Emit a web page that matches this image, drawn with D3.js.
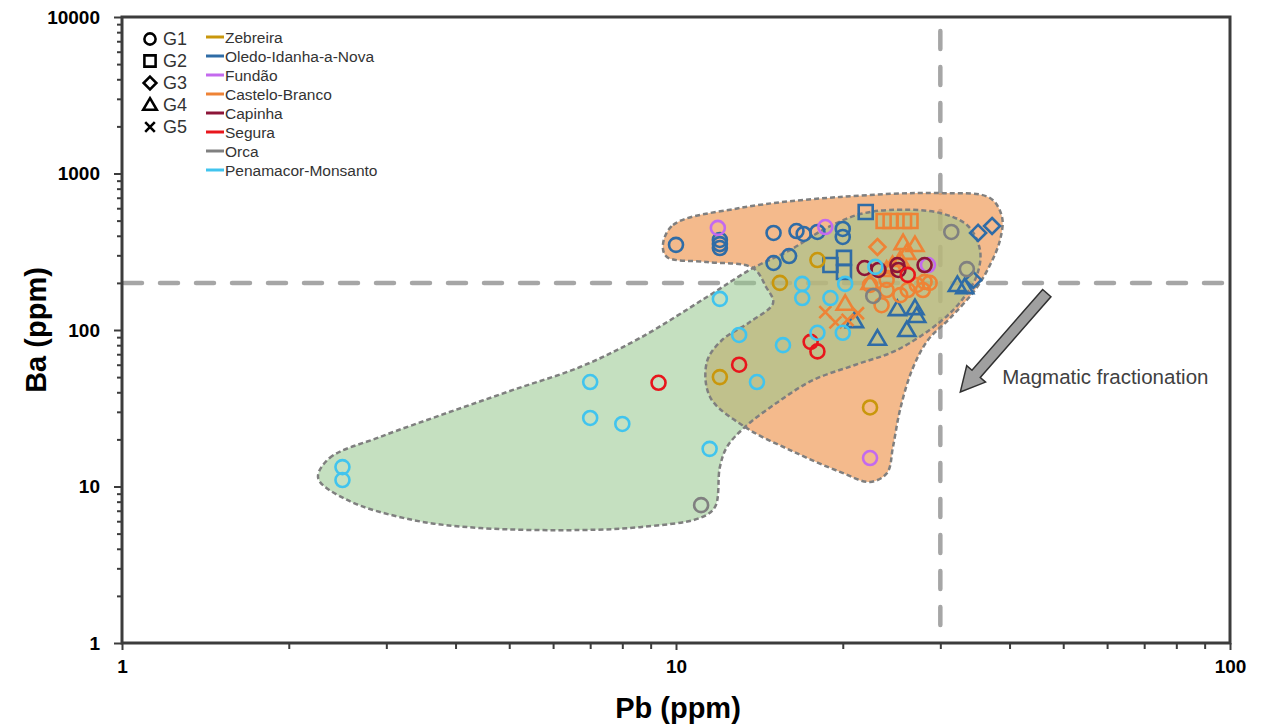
<!DOCTYPE html>
<html>
<head>
<meta charset="utf-8">
<script src="https://cdn.jsdelivr.net/npm/d3@7"></script>
<style>
body{margin:0;background:#fff;}
svg{display:block;font-family:"Liberation Sans",Arial,sans-serif;}
</style>
</head>
<body>
<div class="chart"></div>
<script>
// samples: [Pb, Ba, group]
var zebreira=[[12.0,50,1],[15.4,200,1],[18.0,280,1],[22.4,32,1]]
var oledo=[[10.0,350,1],[12.0,376,1],[12.0,354,1],[12.0,334,1],[15.0,417,1],[16.5,429,1],[17.0,411,1],[18.0,423,1],[20.0,442,1],[20.0,393,1],[15.0,268,1],[16.0,297,1],
  [22.0,567,2],[19.0,260,2],[20.1,289,2],[20.1,235,2],
  [35.1,417,3],[37.2,462,3],[34.4,209,3],
  [21.0,114,4],[23.1,88,4],[25.1,136,4],[27.0,138,4],[27.2,123,4],[26.1,100,4],[32.2,194,4],[33.2,188,4]]
var fundao=[[11.9,449,1],[18.6,455,1],[28.5,260,1],[22.4,15.2,1]]
var casteloBranco=[[23.7,497,2],[24.4,497,2],[25.8,497,2],[26.5,497,2],
  [23.1,339,3],
  [25.7,359,4],[27.0,349,4],[26.1,311,4],[25.4,280,4],[24.6,260,4],[20.2,147,4],[22.4,200,4],[24.0,242,4],
  [24.0,180,1],[25.4,167,1],[26.2,180,1],[27.2,194,1],[28.1,203,1],[27.9,180,1],[23.5,144,1],[24.0,209,1],[22.4,194,1],[28.7,200,1],
  [18.6,130,5],[19.4,112,5],[21.3,128,5],[20.4,116,5]]
var capinha=[[21.9,249,1],[23.2,242,1],[25.1,260,1],[25.2,242,1],[28.1,260,1]]
var segura=[[9.3,46,1],[13.0,60,1],[17.5,84,1],[18.0,73,1],[26.2,225,1]]
var orca=[[31.4,423,1],[33.5,245,1],[11.1,7.6,1],[22.7,165,1]]
var penamacor=[[2.5,13.3,1],[2.5,11,1],[7.0,46.5,1],[7.0,27.4,1],[8.0,25.1,1],[11.5,17.4,1],[12.0,158,1],[13.0,93,1],[14.0,46.5,1],[15.6,80,1],[16.9,197,1],[16.9,160,1],[18.0,96,1],[19.0,160,1],[20.0,96,1],[20.2,197,1],[22.9,253,1]]

var locations=["Zebreira","Oledo-Idanha-a-Nova","Fundão","Castelo-Branco","Capinha","Segura","Orca","Penamacor-Monsanto"]
var samples=[zebreira,oledo,fundao,casteloBranco,capinha,segura,orca,penamacor]
var colors=["#c9970c","#2f6ca6","#c46aee","#ee8336","#8c1538","#e8161c","#808080","#41c4ee"]
var groups=["G1","G2","G3","G4","G5"]
var drawOrder=[1,3,0,2,4,5,6,7]

var xTicks=[1,10,100]
var yTicks=[1,10,100,1000,10000]
var baLimit=200
var pbLimit=30

// fields [Pb, Ba]
var fieldOrange=[[9.47,349],[9.88,469],[13.05,602],[19.77,708],[29.96,750],[36.88,697],[38.77,527],[38.45,376],[36.88,260],[34.65,180],[31.23,119],[28.5,86.3],[26.67,55.5],[25.37,30.8],[24.64,17.9],[24.04,12.2],[22.4,10.7],[19.77,12.4],[16.06,17.1],[13.32,24.0],[11.52,37.3],[11.37,62.5],[12.11,86.3],[13.6,112.5],[14.97,148.8],[14.54,188.3],[13.77,249],[11.37,272],[9.63,293]]
var fieldGreen=[[2.26,11.33],[2.37,15.2],[2.92,20.7],[3.86,29.5],[5.08,41.4],[6.71,58.0],[8.61,88.9],[11.37,162.5],[13.77,249],[16.06,324],[18.42,436],[21.22,543],[24.34,585],[29.96,559],[33.66,462],[35.38,324],[34.94,225],[32.82,155.5],[29.96,112.5],[25.06,74.5],[21.04,59.8],[17.68,47.9],[15.28,34.7],[13.32,24.0],[12.36,17.9],[12.0,13.3],[11.76,7.4],[11.05,6.3],[8.61,5.5],[6.71,5.27],[4.43,5.43],[3.35,6.11],[2.55,8.2]]

var arrowFrom=[46.7,172]
var arrowTo=[32.6,40.2]
var arrowText="Magmatic fractionation"

var shapes=[
  "M7,0A7,7 0 1,1 -7,0A7,7 0 1,1 7,0Z",
  "M-7,-7H7V7H-7Z",
  "M0,-8L8,0L0,8L-8,0Z",
  "M0,-8.5L8.5,6L-8.5,6Z",
  "M-6,-6L6,6M6,-6L-6,6"
]

var drawChart=function(){
  var screen={width:1274,height:728}
  var svg=d3.select(".chart").append("svg")
      .attr('width',screen.width)
      .attr('height',screen.height)

  var x=d3.scaleLog().domain([1,100]).range([122,1230])
  var y=d3.scaleLog().domain([1,10000]).range([643,17])

  // reference lines
  svg.append('line')
      .attr('x1',x(1)+2).attr('x2',x(100))
      .attr('y1',y(baLimit)).attr('y2',y(baLimit))
      .style('stroke','#a6a6a6').attr('stroke-width',4.5)
      .attr('stroke-dasharray','18,18').attr('stroke-linecap','round')
  svg.append('line')
      .attr('x1',x(pbLimit)).attr('x2',x(pbLimit))
      .attr('y1',y(10000)+14).attr('y2',y(1))
      .style('stroke','#a6a6a6').attr('stroke-width',4.5)
      .attr('stroke-dasharray','18,18').attr('stroke-linecap','round')

  // fields
  var area=d3.line()
      .x(function(d){return x(d[0])})
      .y(function(d){return y(d[1])})
      .curve(d3.curveCatmullRomClosed.alpha(0.5))
  svg.append('path').attr('d',area(fieldOrange))
      .style('fill','#f0a060').style('fill-opacity',0.72)
  svg.append('path').attr('d',area(fieldGreen))
      .style('fill','#95c68c').style('fill-opacity',0.55)
  svg.selectAll('.outline').data([fieldOrange,fieldGreen]).enter()
      .append('path').attr('class','outline')
      .attr('d',function(d){return area(d)})
      .style('fill','none').style('stroke','#7f7f7f')
      .attr('stroke-width',2.5).attr('stroke-dasharray','5,3')

  // arrow
  var p0=[x(arrowFrom[0]),y(arrowFrom[1])], p1=[x(arrowTo[0]),y(arrowTo[1])]
  var dx=p1[0]-p0[0], dy=p1[1]-p0[1], len=Math.sqrt(dx*dx+dy*dy)
  var ux=dx/len, uy=dy/len, nx=-uy, ny=ux
  var bw=5.5, hw=12.5, hl=24
  var pt=function(a,b){return [p0[0]+ux*a+nx*b,p0[1]+uy*a+ny*b]}
  var arrowPts=[pt(0,bw),pt(len-hl,bw),pt(len-hl,hw),pt(len,0),pt(len-hl,-hw),pt(len-hl,-bw),pt(0,-bw)]
  svg.append('polygon')
      .attr('points',arrowPts.map(function(d){return d.join(',')}).join(' '))
      .style('fill','#a0a0a0').style('stroke','#303030').attr('stroke-width',1.5)
  svg.append('text')
      .attr('x',x(38.8)).attr('y',y(45.5))
      .style('font-size','20.5px').style('fill','#404040')
      .text(arrowText)

  // samples
  var pts=svg.append('g').attr('id','samples')
  for(var k=0;k<drawOrder.length;k++){
    var i=drawOrder[k]
    pts.append('g').selectAll('path')
        .data(samples[i]).enter()
        .append('path')
        .attr('d',function(d){return shapes[d[2]-1]})
        .attr('transform',function(d){return 'translate('+x(d[0])+','+y(d[1])+')'})
        .style('fill','none').style('stroke',colors[i])
        .attr('stroke-width',2.6)
  }

  // frame + axes
  svg.append('rect')
      .attr('x',x(1)).attr('y',y(10000))
      .attr('width',x(100)-x(1)).attr('height',y(1)-y(10000))
      .style('fill','none').style('stroke','#3c3c3c').attr('stroke-width',3)

  var minorX=[], minorY=[]
  for(var m=2;m<10;m++){
    minorX.push(m,m*10)
    minorY.push(m,m*10,m*100,m*1000)
  }
  var xg=svg.append('g').attr('transform','translate(0,'+y(1)+')')
  xg.call(d3.axisBottom(x).tickValues(minorX).tickSize(6).tickFormat(''))
  xg.append('g').call(d3.axisBottom(x).tickValues(xTicks).tickSize(7).tickPadding(10).tickFormat(d3.format('d')))
  var yg=svg.append('g').attr('transform','translate('+x(1)+',0)')
  yg.call(d3.axisLeft(y).tickValues(minorY).tickSize(5).tickFormat(''))
  yg.append('g').call(d3.axisLeft(y).tickValues(yTicks).tickSize(8).tickPadding(14).tickFormat(d3.format('d')))
  svg.selectAll('.domain').remove()
  svg.selectAll('.tick line').style('stroke','#3c3c3c').attr('stroke-width',2)
  svg.selectAll('.tick text')
      .style('font-family','"Liberation Sans",Arial,sans-serif')
      .style('font-size','19px').style('font-weight','bold').style('fill','#000')

  svg.append('text')
      .attr('x',(x(1)+x(100))/2+2).attr('y',718)
      .attr('text-anchor','middle')
      .style('font-size','29px').style('font-weight','bold')
      .text('Pb (ppm)')
  svg.append('text')
      .attr('transform','translate(46,330) rotate(-90)')
      .attr('text-anchor','middle')
      .style('font-size','29px').style('font-weight','bold')
      .text('Ba (ppm)')

  // legend
  var lg=svg.append('g').attr('id','legend')
  lg.selectAll('path').data(groups).enter().append('path')
      .attr('d',function(d,i){return shapes[i]})
      .attr('transform',function(d,i){return 'translate(150,'+(39+22*i)+') scale(0.8)'})
      .style('fill','none').style('stroke','#000').attr('stroke-width',3.2)
  lg.selectAll('.gl').data(groups).enter().append('text')
      .attr('class','gl')
      .attr('x',163).attr('y',function(d,i){return 39+22*i})
      .attr('dy','0.36em')
      .style('font-size','18px').style('fill','#333')
      .text(function(d){return d})
  lg.selectAll('line').data(locations).enter().append('line')
      .attr('x1',206).attr('x2',224)
      .attr('y1',function(d,i){return 37+19*i})
      .attr('y2',function(d,i){return 37+19*i})
      .style('stroke',function(d,i){return colors[i]})
      .attr('stroke-width',3)
  lg.selectAll('.ll').data(locations).enter().append('text')
      .attr('class','ll')
      .attr('x',225).attr('y',function(d,i){return 37+19*i})
      .attr('dy','0.36em')
      .style('font-size','15.5px').style('fill','#333')
      .text(function(d){return d})
}

drawChart()
</script>
</body>
</html>
